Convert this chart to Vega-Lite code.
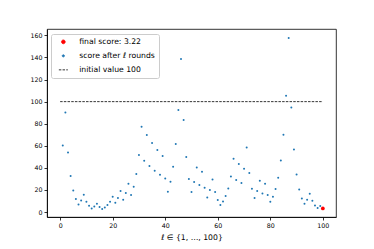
{
  "$schema": "https://vega.github.io/schema/vega-lite/v6.json",
  "width": 289,
  "height": 188,
  "autosize": {"type": "none"},
  "padding": {"left": 47, "top": 29, "right": 38, "bottom": 32},
  "background": "white",
  "config": {
    "font": "DejaVu Sans",
    "view": {"stroke": "black", "strokeWidth": 0.8},
    "axis": {
      "grid": false,
      "domainColor": "black",
      "domainWidth": 0.8,
      "tickColor": "black",
      "tickWidth": 0.8,
      "tickSize": 3,
      "labelFontSize": 6.3,
      "labelColor": "black",
      "labelPadding": 2,
      "labelOverlap": false,
      "titleFontSize": 7.7,
      "titleColor": "black",
      "titleFontWeight": "normal"
    }
  },
  "encoding": {
    "x": {"field": "l", "type": "quantitative", "scale": {"domain": [-5, 105], "nice": false, "zero": false}, "axis": {"values": [0, 20, 40, 60, 80, 100], "labelOverlap": false, "title": "ℓ ∈ {1, …, 100}", "titlePadding": 5}},
    "y": {"field": "score", "type": "quantitative", "scale": {"domain": [-4.5, 165.8], "nice": false, "zero": false}, "axis": {"values": [0, 20, 40, 60, 80, 100, 120, 140, 160], "labelOverlap": false, "title": null}}
  },
  "layer": [
    {
      "data": {"values": [{"l": 0, "l2": 100, "score": 100, "s": "initial value 100"}]},
      "mark": {"type": "rule", "strokeDash": [2.5, 1.2], "strokeWidth": 0.8},
      "encoding": {
        "x2": {"field": "l2"},
        "color": {
          "field": "s",
          "type": "nominal",
          "scale": {"domain": ["final score: 3.22", "score after ℓ rounds", "initial value 100"], "range": ["red", "#1f77b4", "black"]},
          "legend": {
            "title": null,
            "orient": "none",
            "legendX": 4,
            "legendY": 5,
            "fillColor": "white",
            "strokeColor": "#cccccc",
            "padding": 4,
            "cornerRadius": 2,
            "symbolSize": 36,
            "symbolOffset": 4.5,
            "labelOffset": 12,
            "rowPadding": 5,
            "labelFontSize": 7.7,
            "labelFont": "DejaVu Sans",
            "labelColor": "black",
            "encode": {
              "symbols": {
                "update": {
                  "shape": {"signal": "datum.value === 'initial value 100' ? 'M-1.5,0H1.5' : 'circle'"},
                  "size": {"signal": "datum.value === 'initial value 100' ? 36 : datum.value === 'final score: 3.22' ? 14 : 5"},
                  "fill": {"signal": "datum.value === 'initial value 100' ? 'transparent' : datum.value === 'final score: 3.22' ? 'red' : '#1f77b4'"},
                  "stroke": {"signal": "datum.value === 'initial value 100' ? 'black' : 'transparent'"},
                  "strokeDash": {"signal": "datum.value === 'initial value 100' ? [2.5, 1.2] : [1, 0]"},
                  "strokeWidth": {"value": 0.8},
                  "opacity": {"value": 1}
                }
              }
            }
          }
        }
      }
    },
    {
      "data": {"values": [
        {"l": 1, "score": 60.3}, {"l": 2, "score": 90.2}, {"l": 3, "score": 54.0}, {"l": 4, "score": 32.6}, {"l": 5, "score": 19.6},
        {"l": 6, "score": 11.8}, {"l": 7, "score": 6.9}, {"l": 8, "score": 10.5}, {"l": 9, "score": 15.7}, {"l": 10, "score": 9.3},
        {"l": 11, "score": 5.7}, {"l": 12, "score": 3.3}, {"l": 13, "score": 5.1}, {"l": 14, "score": 7.5}, {"l": 15, "score": 4.5},
        {"l": 16, "score": 2.7}, {"l": 17, "score": 4.2}, {"l": 18, "score": 6.3}, {"l": 19, "score": 9.3}, {"l": 20, "score": 13.9},
        {"l": 21, "score": 8.4}, {"l": 22, "score": 12.7}, {"l": 23, "score": 19.0}, {"l": 24, "score": 11.1}, {"l": 25, "score": 17.2},
        {"l": 26, "score": 25.6}, {"l": 27, "score": 15.4}, {"l": 28, "score": 22.9}, {"l": 29, "score": 34.4}, {"l": 30, "score": 51.6},
        {"l": 31, "score": 77.3}, {"l": 32, "score": 46.5}, {"l": 33, "score": 69.7}, {"l": 34, "score": 41.7}, {"l": 35, "score": 62.5},
        {"l": 36, "score": 37.4}, {"l": 37, "score": 56.2}, {"l": 38, "score": 33.8}, {"l": 39, "score": 50.7}, {"l": 40, "score": 30.4},
        {"l": 41, "score": 18.4}, {"l": 42, "score": 27.4}, {"l": 43, "score": 41.0}, {"l": 44, "score": 61.6}, {"l": 45, "score": 92.4},
        {"l": 46, "score": 138.6}, {"l": 47, "score": 83.3}, {"l": 48, "score": 49.8}, {"l": 49, "score": 29.9}, {"l": 50, "score": 18.1},
        {"l": 51, "score": 27.2}, {"l": 52, "score": 40.4}, {"l": 53, "score": 24.5}, {"l": 54, "score": 36.5}, {"l": 55, "score": 22.0},
        {"l": 56, "score": 13.2}, {"l": 57, "score": 19.9}, {"l": 58, "score": 29.5}, {"l": 59, "score": 18.1}, {"l": 60, "score": 10.9},
        {"l": 61, "score": 6.3}, {"l": 62, "score": 9.6}, {"l": 63, "score": 14.5}, {"l": 64, "score": 21.4}, {"l": 65, "score": 32.2},
        {"l": 66, "score": 48.3}, {"l": 67, "score": 29.0}, {"l": 68, "score": 43.5}, {"l": 69, "score": 26.3}, {"l": 70, "score": 39.2},
        {"l": 71, "score": 58.5}, {"l": 72, "score": 35.3}, {"l": 73, "score": 21.1}, {"l": 74, "score": 12.7}, {"l": 75, "score": 19.0},
        {"l": 76, "score": 28.4}, {"l": 77, "score": 16.8}, {"l": 78, "score": 25.6}, {"l": 79, "score": 15.4}, {"l": 80, "score": 9.3},
        {"l": 81, "score": 13.9}, {"l": 82, "score": 20.8}, {"l": 83, "score": 31.1}, {"l": 84, "score": 46.7}, {"l": 85, "score": 70.0},
        {"l": 86, "score": 105.3}, {"l": 87, "score": 157.6}, {"l": 88, "score": 94.7}, {"l": 89, "score": 56.7}, {"l": 90, "score": 34.1},
        {"l": 91, "score": 20.5}, {"l": 92, "score": 12.3}, {"l": 93, "score": 7.5}, {"l": 94, "score": 11.1}, {"l": 95, "score": 16.6},
        {"l": 96, "score": 10.2}, {"l": 97, "score": 6.0}, {"l": 98, "score": 3.6}, {"l": 99, "score": 5.4}, {"l": 100, "score": 3.22}
      ]},
      "mark": {"type": "circle", "size": 4, "opacity": 1},
      "encoding": {
        "color": {"datum": "score after ℓ rounds"}
      }
    },
    {
      "data": {"values": [{"l": 100, "score": 3.22}]},
      "mark": {"type": "circle", "size": 14, "opacity": 1},
      "encoding": {
        "color": {"datum": "final score: 3.22"}
      }
    }
  ]
}
